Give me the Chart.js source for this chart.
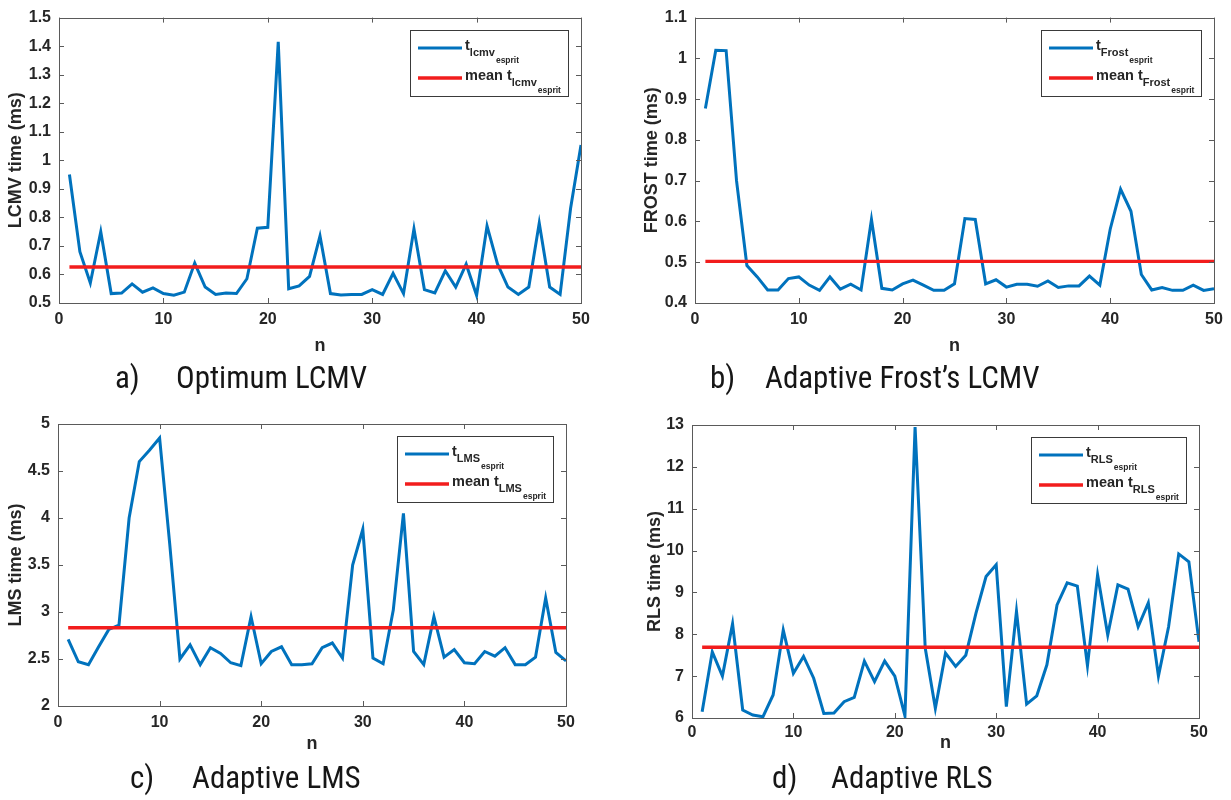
<!DOCTYPE html>
<html>
<head>
<meta charset="utf-8">
<script src="https://cdn.jsdelivr.net/npm/chart.js@4.4.1/dist/chart.umd.min.js"></script>
<style>
  body { margin: 0; background: #fff; width: 1231px; height: 800px; position: relative; overflow: hidden; }
  canvas { position: absolute; }
  .cap { position: absolute; font-family: "Liberation Sans Narrow", "Roboto Condensed", "Open Sans", sans-serif; font-size: 31px; color: #161616; white-space: nowrap; }
</style>
</head>
<body>
<canvas id="pA" width="615" height="360" style="left:0;top:0"></canvas>
<canvas id="pB" width="616" height="360" style="left:615px;top:0"></canvas>
<canvas id="pC" width="615" height="400" style="left:0;top:400px"></canvas>
<canvas id="pD" width="616" height="400" style="left:615px;top:400px"></canvas>

<div class="cap" style="left:115px;top:359px">a)</div>
<div class="cap" style="left:176px;top:359px">Optimum LCMV</div>
<div class="cap" style="left:710px;top:359px">b)</div>
<div class="cap" style="left:765px;top:359px">Adaptive Frost’s LCMV</div>
<div class="cap" style="left:130px;top:759px">c)</div>
<div class="cap" style="left:192px;top:759px">Adaptive LMS</div>
<div class="cap" style="left:772px;top:759px">d)</div>
<div class="cap" style="left:831px;top:759px">Adaptive RLS</div>

<script>
// run index n
const N = [1, 2, 3, 4, 5, 6, 7, 8, 9, 10, 11, 12, 13, 14, 15, 16, 17, 18, 19, 20,
           21, 22, 23, 24, 25, 26, 27, 28, 29, 30, 31, 32, 33, 34, 35, 36, 37, 38, 39, 40,
           41, 42, 43, 44, 45, 46, 47, 48, 49, 50];

// processing times (ms)
const tLcmv = [0.95, 0.68, 0.57, 0.75, 0.533, 0.535, 0.567, 0.538, 0.553, 0.533,
               0.527, 0.538, 0.64, 0.556, 0.53, 0.535, 0.533, 0.585, 0.762, 0.765,
               1.415, 0.55, 0.56, 0.593, 0.735, 0.533, 0.528, 0.53, 0.53, 0.547,
               0.53, 0.604, 0.533, 0.76, 0.547, 0.535, 0.613, 0.556, 0.636, 0.527,
               0.77, 0.637, 0.556, 0.53, 0.556, 0.78, 0.556, 0.53, 0.831, 1.054];
const tFrost = [0.877, 1.02, 1.019, 0.70, 0.492, 0.464, 0.432, 0.432, 0.46, 0.464,
                0.444, 0.431, 0.464, 0.434, 0.446, 0.432, 0.605, 0.436, 0.432, 0.447,
                0.456, 0.444, 0.431, 0.431, 0.447, 0.607, 0.605, 0.447, 0.457, 0.439,
                0.446, 0.446, 0.441, 0.454, 0.438, 0.442, 0.442, 0.466, 0.444, 0.581,
                0.679, 0.625, 0.47, 0.432, 0.438, 0.431, 0.431, 0.444, 0.431, 0.435];
const tLms = [2.71, 2.47, 2.44, 2.63, 2.815, 2.86, 4.0, 4.6, 4.72, 4.85,
              3.72, 2.5, 2.65, 2.44, 2.62, 2.56, 2.46, 2.43, 2.95, 2.45,
              2.58, 2.63, 2.44, 2.44, 2.45, 2.62, 2.67, 2.51, 3.5, 3.88,
              2.51, 2.45, 3.02, 4.05, 2.58, 2.44, 2.95, 2.52, 2.60, 2.46,
              2.45, 2.58, 2.53, 2.62, 2.44, 2.44, 2.52, 3.15, 2.57, 2.48];
const tRls = [6.15, 7.58, 7.0, 8.25, 6.19, 6.07, 6.03, 6.55, 8.1, 7.07,
              7.47, 6.95, 6.11, 6.12, 6.39, 6.49, 7.36, 6.87, 7.36, 7.0,
              6.05, 12.95, 7.67, 6.23, 7.55, 7.23, 7.5, 8.5, 9.38, 9.66,
              6.27, 8.55, 6.33, 6.53, 7.27, 8.7, 9.23, 9.15, 7.25, 9.42,
              7.98, 9.18, 9.08, 8.18, 8.75, 7.0, 8.18, 9.92, 9.73, 7.82];

const meanLcmv = 0.626;
const meanFrost = 0.502;
const meanLms = 2.833;
const meanRls = 7.69;

const BLUE = "#0072bd";
const RED = "#f21d1d";
const INK = "#262626";
const SANS = '"Liberation Sans", Arial, Helvetica, sans-serif';
const BLUE_W = 3;
const RED_W = 3.4;

// MATLAB-like box with inward ticks on all four sides, plus the subscripted legend
const matlabBox = {
  id: "matlabBox",
  afterDraw(chart, args, opts) {
    const { ctx, chartArea: a, scales } = chart;
    ctx.save();
    ctx.strokeStyle = "#5a5a5a";
    ctx.lineWidth = 1;
    ctx.beginPath();
    scales.x.ticks.forEach(t => {
      const px = Math.round(scales.x.getPixelForValue(t.value)) + 0.5;
      ctx.moveTo(px, a.bottom); ctx.lineTo(px, a.bottom - 5);
      ctx.moveTo(px, a.top); ctx.lineTo(px, a.top + 5);
    });
    scales.y.ticks.forEach(t => {
      const py = Math.round(scales.y.getPixelForValue(t.value)) + 0.5;
      ctx.moveTo(a.left, py); ctx.lineTo(a.left + 5, py);
      ctx.moveTo(a.right, py); ctx.lineTo(a.right - 5, py);
    });
    ctx.stroke();
    ctx.strokeRect(Math.round(a.left) + 0.5, Math.round(a.top) + 0.5,
                   Math.round(a.right - a.left), Math.round(a.bottom - a.top));

    // legend
    const fT = "bold 14.5px " + SANS, fS = "bold 11px " + SANS, fE = "bold 8.5px " + SANS;
    ctx.font = fT; const wMean = ctx.measureText("mean t").width; const wT = ctx.measureText("t").width;
    ctx.font = fS; const wSub = ctx.measureText(opts.sub).width;
    ctx.font = fE; const wEsp = ctx.measureText("esprit").width;
    const boxW = Math.round(56 + wMean + wSub + 1 + wEsp + 6);
    const boxH = 66;
    const right = Math.round(a.right) - 13, top = Math.round(a.top) + 12, left = right - boxW;
    ctx.fillStyle = "#fff";
    ctx.fillRect(left, top, boxW, boxH);
    ctx.strokeStyle = "#3a3a3a";
    ctx.strokeRect(left + 0.5, top + 0.5, boxW, boxH);

    const rows = [
      { head: "t", hw: wT, color: BLUE, width: BLUE_W, y: top + 18 },
      { head: "mean t", hw: wMean, color: RED, width: RED_W, y: top + 48 }
    ];
    ctx.textBaseline = "alphabetic";
    ctx.textAlign = "left";
    rows.forEach(r => {
      ctx.strokeStyle = r.color;
      ctx.lineWidth = r.width;
      ctx.beginPath();
      ctx.moveTo(left + 8, r.y); ctx.lineTo(left + 52, r.y);
      ctx.stroke();
      const x0 = left + 55;
      ctx.fillStyle = INK;
      ctx.font = fT; ctx.fillText(r.head, x0, r.y + 2);
      ctx.font = fS; ctx.fillText(opts.sub, x0 + r.hw, r.y + 8);
      ctx.font = fE; ctx.fillText("esprit", x0 + r.hw + wSub + 1, r.y + 15);
    });
    ctx.restore();
  }
};

function makePlot(id, p) {
  return new Chart(document.getElementById(id), {
    type: "line",
    data: {
      datasets: [
        {
          data: N.map((n, i) => ({ x: n, y: p.values[i] })),
          borderColor: BLUE, borderWidth: BLUE_W, pointRadius: 0, tension: 0, fill: false, order: 1
        },
        {
          data: [{ x: N[0], y: p.mean }, { x: N[N.length - 1], y: p.mean }],
          borderColor: RED, borderWidth: RED_W, pointRadius: 0, fill: false, order: 0
        }
      ]
    },
    options: {
      responsive: false,
      animation: false,
      events: [],
      layout: { padding: p.pad },
      plugins: {
        legend: { display: false },
        tooltip: { enabled: false },
        matlabBox: { sub: p.sub }
      },
      scales: {
        x: {
          type: "linear", min: 0, max: 50,
          grid: { display: false, drawTicks: false },
          border: { display: false },
          ticks: { stepSize: 10, padding: p.xPad, color: INK, font: { family: SANS, size: 16, weight: "bold" } },
          title: { display: true, text: "n", color: INK, font: { family: SANS, size: 18, weight: "bold" }, padding: 0 },
          afterFit: s => { s.height = p.xH; }
        },
        y: {
          min: p.yMin, max: p.yMax,
          grid: { display: false, drawTicks: false },
          border: { display: false },
          ticks: {
            stepSize: p.yStep, padding: 8, color: INK,
            font: { family: SANS, size: 16, weight: "bold" },
            callback: v => String(Number(v.toFixed(2)))
          },
          title: { display: true, text: p.yTitle, color: INK, font: { family: SANS, size: 18, weight: "bold" }, padding: { top: p.yTitlePad, bottom: 0 } },
          afterFit: s => { s.width = p.yW; }
        }
      }
    },
    plugins: [matlabBox]
  });
}

makePlot("pA", {
  values: tLcmv, mean: meanLcmv, sub: "lcmv", yTitle: "LCMV time (ms)",
  yMin: 0.5, yMax: 1.5, yStep: 0.1,
  pad: { left: 0, right: 34, top: 12, bottom: 3 }, yW: 59, xH: 54, xPad: 7, yTitlePad: 5
});
makePlot("pB", {
  values: tFrost, mean: meanFrost, sub: "Frost", yTitle: "FROST time (ms)",
  yMin: 0.4, yMax: 1.1, yStep: 0.1,
  pad: { left: 20, right: 17, top: 15, bottom: 3 }, yW: 60, xH: 54, xPad: 7, yTitlePad: 6
});
makePlot("pC", {
  values: tLms, mean: meanLms, sub: "LMS", yTitle: "LMS time (ms)",
  yMin: 2, yMax: 5, yStep: 0.5,
  pad: { left: 0, right: 49, top: 24, bottom: 45 }, yW: 58, xH: 49, xPad: 7, yTitlePad: 5
});
makePlot("pD", {
  values: tRls, mean: meanRls, sub: "RLS", yTitle: "RLS time (ms)",
  yMin: 6, yMax: 13, yStep: 1,
  pad: { left: 20, right: 32, top: 25, bottom: 46 }, yW: 57, xH: 36, xPad: 5, yTitlePad: 9
});
</script>
</body>
</html>
